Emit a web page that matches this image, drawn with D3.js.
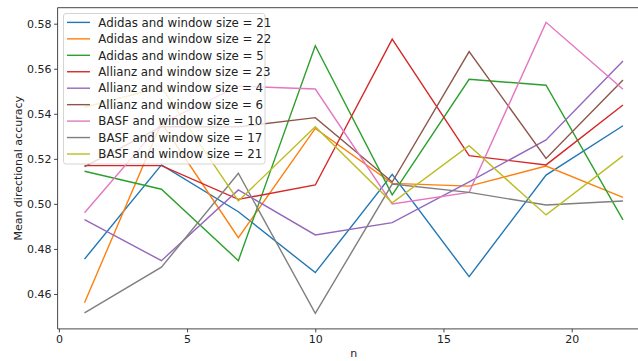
<!DOCTYPE html>
<html>
<head>
<meta charset="utf-8">
<script src="https://cdn.jsdelivr.net/npm/d3@7"></script>
<style>
  html, body { margin: 0; padding: 0; background: #fff; }
  svg { display: block; font-family: "DejaVu Sans", sans-serif; }
</style>
</head>
<body>
<svg id="chart" width="638" height="361"></svg>
<script>
// Window sizes evaluated (x axis)
const nValues = [1, 4, 7, 10, 13, 16, 19, 22];

// Series names, in legend order
const seriesNames = [
  "Adidas and window size = 21",
  "Adidas and window size = 22",
  "Adidas and window size = 5",
  "Allianz and window size = 23",
  "Allianz and window size = 4",
  "Allianz and window size = 6",
  "BASF and window size = 10",
  "BASF and window size = 17",
  "BASF and window size = 21"
];

// Mean directional accuracy per series
const adidas21  = [0.4755, 0.5173, 0.4965, 0.4695, 0.5131, 0.4677, 0.5128, 0.5347];
const adidas22  = [0.4561, 0.5360, 0.4850, 0.5335, 0.5091, 0.5079, 0.5168, 0.5029];
const adidas5   = [0.5145, 0.5065, 0.4748, 0.5702, 0.5040, 0.5553, 0.5527, 0.4929];
const allianz23 = [0.5170, 0.5170, 0.5020, 0.5084, 0.5731, 0.5214, 0.5173, 0.5439];
const allianz4  = [0.4930, 0.4748, 0.5062, 0.4862, 0.4917, 0.5098, 0.5284, 0.5634];
const allianz6  = [0.5165, 0.5343, 0.5342, 0.5383, 0.5097, 0.5676, 0.5202, 0.5550];
const basf10    = [0.4961, 0.5358, 0.5523, 0.5510, 0.5000, 0.5051, 0.5806, 0.5509];
const basf17    = [0.4516, 0.4719, 0.5136, 0.4514, 0.5088, 0.5051, 0.4995, 0.5013];
const basf21    = [0.5429, 0.5518, 0.5013, 0.5343, 0.5005, 0.5258, 0.4951, 0.5213];

const seriesValues = [adidas21, adidas22, adidas5, allianz23, allianz4, allianz6, basf10, basf17, basf21];

// Tick labels
const xTicks = [0, 5, 10, 15, 20];
const yTicks = [0.46, 0.48, 0.50, 0.52, 0.54, 0.56, 0.58];

const xLabel = "n";
const yLabel = "Mean directional accuracy";

// Default matplotlib category palette
const colors = ["#1f77b4", "#ff7f0e", "#2ca02c", "#d62728", "#9467bd",
                "#8c564b", "#e377c2", "#7f7f7f", "#bcbd22"];

const svg = d3.select("#chart");

// Plot area bounds (right edge extends past the canvas)
const plot = { left: 57.6, right: 649.9, top: 7.7, bottom: 328.9 };

const x = d3.scaleLinear().domain([-0.05, 23.05]).range([plot.left, plot.right]);
const y = d3.scaleLinear().domain([0.4445, 0.5871]).range([plot.bottom, plot.top]);

const axisColor = "#333";
const tickFont = 11;

// Series lines
const line = d3.line()
  .x((d, i) => x(nValues[i]))
  .y(d => y(d));

svg.append("g")
  .selectAll("path")
  .data(seriesValues)
  .join("path")
  .attr("d", line)
  .attr("fill", "none")
  .attr("stroke", (d, i) => colors[i])
  .attr("stroke-width", 1.4)
  .attr("stroke-linejoin", "miter");

// Axes
const xAxis = d3.axisBottom(x).tickValues(xTicks).tickFormat(d3.format("d"))
  .tickSize(3.5).tickPadding(3);
const yAxis = d3.axisLeft(y).tickValues(yTicks).tickFormat(d3.format(".2f"))
  .tickSize(3.5).tickPadding(2.5);

const gx = svg.append("g").attr("transform", `translate(0,${plot.bottom})`).call(xAxis);
const gy = svg.append("g").attr("transform", `translate(${plot.left},0)`).call(yAxis);

[gx, gy].forEach(g => {
  g.select(".domain").remove();
  g.selectAll(".tick line").attr("stroke", axisColor).attr("stroke-width", 0.9);
  g.selectAll(".tick text")
    .attr("fill", "#222")
    .style("font-family", "'DejaVu Sans', sans-serif")
    .style("font-size", tickFont + "px");
});

// Spines: left, bottom, top (right lies beyond the canvas)
const spines = svg.append("g").attr("stroke", axisColor).attr("stroke-width", 0.9).attr("fill", "none");
spines.append("line").attr("x1", plot.left).attr("x2", plot.left).attr("y1", plot.top).attr("y2", plot.bottom);
spines.append("line").attr("x1", plot.left).attr("x2", plot.right).attr("y1", plot.bottom).attr("y2", plot.bottom);
spines.append("line").attr("x1", plot.left).attr("x2", plot.right).attr("y1", plot.top).attr("y2", plot.top);
spines.append("line").attr("x1", plot.right).attr("x2", plot.right).attr("y1", plot.top).attr("y2", plot.bottom);

// Axis titles
svg.append("text")
  .attr("x", (plot.left + plot.right) / 2)
  .attr("y", 357)
  .attr("text-anchor", "middle")
  .attr("fill", "#222")
  .style("font-size", tickFont + "px")
  .text(xLabel);

svg.append("text")
  .attr("transform", `translate(21.5,${(plot.top + plot.bottom) / 2}) rotate(-90)`)
  .attr("text-anchor", "middle")
  .attr("fill", "#222")
  .style("font-size", tickFont + "px")
  .text(yLabel);

// Legend
const legend = svg.append("g").attr("transform", "translate(63.5,13.5)");
const rowH = 16.45;
const legendFont = 11.8;
legend.append("rect")
  .attr("width", 201.5)
  .attr("height", 150.5)
  .attr("rx", 2.5)
  .attr("fill", "#fff")
  .attr("fill-opacity", 0.8)
  .attr("stroke", "#d0d0d0")
  .attr("stroke-width", 0.9);

const rows = legend.selectAll("g.row")
  .data(seriesNames)
  .join("g")
  .attr("class", "row")
  .attr("transform", (d, i) => `translate(0,${8.9 + i * rowH})`);

rows.append("line")
  .attr("x1", 3.5).attr("x2", 26.5)
  .attr("stroke", (d, i) => colors[i])
  .attr("stroke-width", 1.4);

rows.append("text")
  .attr("x", 34.8)
  .attr("dy", "0.36em")
  .attr("fill", "#222")
  .style("font-size", legendFont + "px")
  .text(d => d);
</script>
</body>
</html>
